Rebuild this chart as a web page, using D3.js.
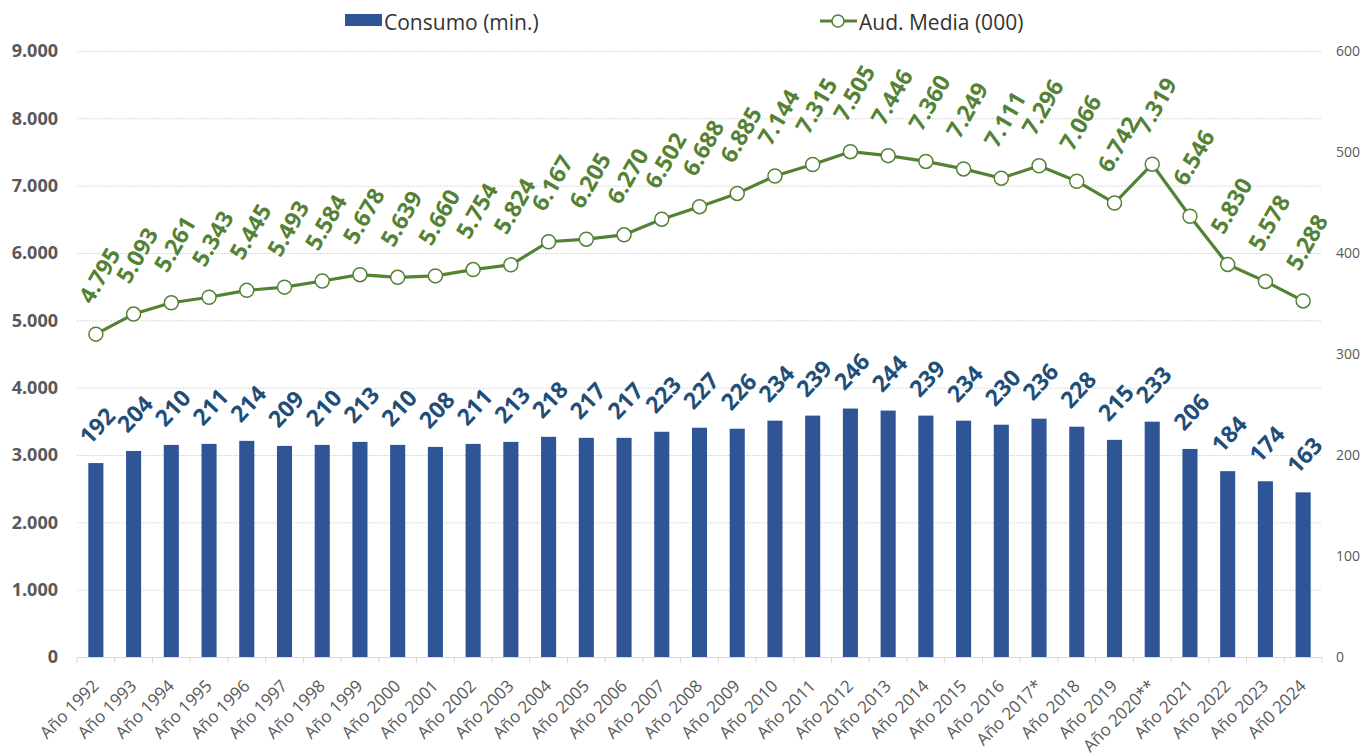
<!DOCTYPE html>
<head>
    <meta charset="utf-8">
    <style>
        body {
            margin: 0;
            font-family: "Open Sans", sans-serif;
            background: #fff;
        }

        .grid line {
            stroke: #d9d9d9;
            stroke-dasharray: 2,1;
        }

        .axis-left text {
            font-size: 18px;
            font-weight: bold;
            fill: #595959;
        }

        .axis-right text {
            font-size: 14px;
            fill: #595959;
        }

        .x-label {
            font-size: 17px;
            fill: #595959;
        }

        .bar-label {
            font-size: 23px;
            font-weight: bold;
            fill: #1f4e79;
        }

        .line-label {
            font-size: 23px;
            font-weight: bold;
            fill: #548235;
        }

        .legend text {
            font-size: 21px;
            fill: #333;
        }
    </style>

    <script src='https://d3js.org/d3.v7.min.js'></script>
</head>
<body>
    <script>
        // data
        const categories = ['Año 1992', 'Año 1993', 'Año 1994', 'Año 1995', 'Año 1996', 'Año 1997', 'Año 1998',
            'Año 1999', 'Año 2000', 'Año 2001', 'Año 2002', 'Año 2003', 'Año 2004', 'Año 2005', 'Año 2006',
            'Año 2007', 'Año 2008', 'Año 2009', 'Año 2010', 'Año 2011', 'Año 2012', 'Año 2013', 'Año 2014',
            'Año 2015', 'Año 2016', 'Año 2017*', 'Año 2018', 'Año 2019', 'Año 2020**', 'Año 2021', 'Año 2022',
            'Año 2023', 'Añ0 2024'];

        const consumo = [192, 204, 210, 211, 214, 209, 210, 213, 210, 208, 211, 213, 218, 217, 217, 223, 227,
            226, 234, 239, 246, 244, 239, 234, 230, 236, 228, 215, 233, 206, 184, 174, 163];

        const audMedia = [4795, 5093, 5261, 5343, 5445, 5493, 5584, 5678, 5639, 5660, 5754, 5824, 6167, 6205,
            6270, 6502, 6688, 6885, 7144, 7315, 7505, 7446, 7360, 7249, 7111, 7296, 7066, 6742, 7319, 6546,
            5830, 5578, 5288];

        const leftTicks = [0, 1000, 2000, 3000, 4000, 5000, 6000, 7000, 8000, 9000];
        const rightTicks = [0, 100, 200, 300, 400, 500, 600];

        const legendNames = ['Consumo (min.)', 'Aud. Media (000)'];

        const width = 1360,
            height = 756;

        const plot = { left: 77, right: 1322, top: 51, bottom: 657 };

        const BAR_COLOR = '#2f5597',
            LINE_COLOR = '#548235';

        const es = d3.formatLocale({ decimal: ',', thousands: '.', grouping: [3], currency: ['', ' €'] });
        const fmt = es.format(',d');

        const x = d3.scaleBand()
            .domain(categories)
            .range([plot.left, plot.right])
            .paddingInner(0.6)
            .paddingOuter(0.3);

        const yLeft = d3.scaleLinear()
            .domain([0, 9000])
            .range([plot.bottom, plot.top]);

        const yRight = d3.scaleLinear()
            .domain([0, 600])
            .range([plot.bottom, plot.top]);

        const cx = d => x(d) + x.bandwidth() / 2;

        const svg = d3.select('body').append('svg')
            .attr('width', width)
            .attr('height', height);

        // gridlines
        svg.append('g').attr('class', 'grid')
            .selectAll('line')
            .data(leftTicks.filter(t => t > 0))
            .join('line')
            .attr('x1', plot.left)
            .attr('x2', plot.right)
            .attr('y1', d => yLeft(d) + 0.5)
            .attr('y2', d => yLeft(d) + 0.5);

        // left axis labels
        svg.append('g').attr('class', 'axis-left')
            .selectAll('text')
            .data(leftTicks)
            .join('text')
            .attr('x', 58)
            .attr('y', d => yLeft(d))
            .attr('dy', '0.35em')
            .attr('text-anchor', 'end')
            .text(d => fmt(d));

        // right axis labels
        svg.append('g').attr('class', 'axis-right')
            .selectAll('text')
            .data(rightTicks)
            .join('text')
            .attr('x', 1336)
            .attr('y', d => yRight(d))
            .attr('dy', '0.35em')
            .text(d => fmt(d));

        // x axis line + ticks between categories
        const xAxis = svg.append('g');
        xAxis.append('line')
            .attr('x1', plot.left).attr('x2', plot.right)
            .attr('y1', plot.bottom + 0.5).attr('y2', plot.bottom + 0.5)
            .attr('stroke', '#d9d9d9');

        const step = x.step();
        xAxis.selectAll('.tick')
            .data(d3.range(categories.length + 1))
            .join('line')
            .attr('class', 'tick')
            .attr('x1', i => plot.left + i * step)
            .attr('x2', i => plot.left + i * step)
            .attr('y1', plot.bottom)
            .attr('y2', plot.bottom + 6)
            .attr('stroke', '#d9d9d9');

        xAxis.selectAll('.x-label')
            .data(categories)
            .join('text')
            .attr('class', 'x-label')
            .attr('text-anchor', 'end')
            .attr('transform', d => `translate(${cx(d) + 4},${plot.bottom + 30}) rotate(-45)`)
            .text(d => d);

        // bars (right axis)
        svg.append('g')
            .selectAll('rect')
            .data(consumo)
            .join('rect')
            .attr('x', (d, i) => x(categories[i]))
            .attr('y', d => yRight(d))
            .attr('width', x.bandwidth())
            .attr('height', d => plot.bottom - yRight(d))
            .attr('fill', BAR_COLOR);

        svg.append('g')
            .selectAll('text')
            .data(consumo)
            .join('text')
            .attr('class', 'bar-label')
            .attr('transform', (d, i) => `translate(${cx(categories[i]) - 6},${yRight(d) - 17}) rotate(-47)`)
            .text(d => fmt(d));

        // line (left axis)
        const line = d3.line()
            .x((d, i) => cx(categories[i]))
            .y(d => yLeft(d));

        svg.append('path')
            .datum(audMedia)
            .attr('fill', 'none')
            .attr('stroke', LINE_COLOR)
            .attr('stroke-width', 3.2)
            .attr('stroke-linejoin', 'round')
            .attr('d', line);

        svg.append('g')
            .selectAll('circle')
            .data(audMedia)
            .join('circle')
            .attr('cx', (d, i) => cx(categories[i]))
            .attr('cy', d => yLeft(d))
            .attr('r', 7)
            .attr('fill', '#fff')
            .attr('stroke', LINE_COLOR)
            .attr('stroke-width', 1.5);

        svg.append('g')
            .selectAll('text')
            .data(audMedia)
            .join('text')
            .attr('class', 'line-label')
            .attr('transform', (d, i) => `translate(${cx(categories[i]) - 4},${yLeft(d) - 29}) rotate(-60)`)
            .text(d => fmt(d));

        // legend
        const legend = svg.append('g').attr('class', 'legend');
        legend.append('rect')
            .attr('x', 345).attr('y', 14)
            .attr('width', 37).attr('height', 12)
            .attr('fill', BAR_COLOR);
        legend.append('text')
            .attr('x', 384).attr('y', 30)
            .text(legendNames[0]);

        legend.append('line')
            .attr('x1', 820).attr('x2', 857)
            .attr('y1', 21).attr('y2', 21)
            .attr('stroke', LINE_COLOR)
            .attr('stroke-width', 3.2);
        legend.append('circle')
            .attr('cx', 838).attr('cy', 21).attr('r', 6)
            .attr('fill', '#fff')
            .attr('stroke', LINE_COLOR)
            .attr('stroke-width', 1.5);
        legend.append('text')
            .attr('x', 859).attr('y', 30)
            .text(legendNames[1]);
    </script>
</body>
